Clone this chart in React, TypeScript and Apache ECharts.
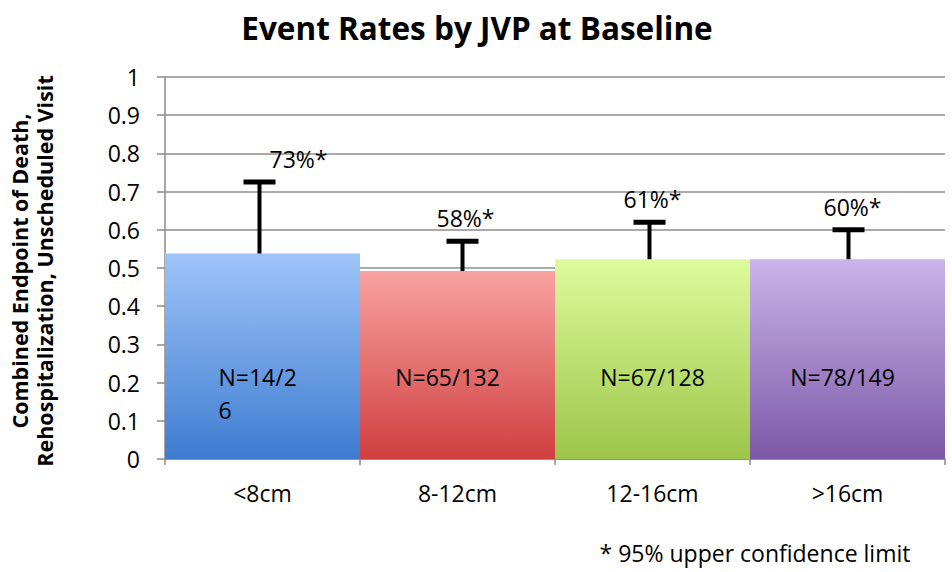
import React, { useEffect, useRef } from "react";
import * as echarts from "echarts";

const categories = ["<8cm", "8-12cm", "12-16cm", ">16cm"];
const rates = [0.538, 0.492, 0.523, 0.523];
const upperLimits = [0.725, 0.57, 0.62, 0.6];
const upperLabels = ["73%*", "58%*", "61%*", "60%*"];
const countLabels = ["N=14/2\n6", "N=65/132", "N=67/128", "N=78/149"];
const yTicks = [0, 0.1, 0.2, 0.3, 0.4, 0.5, 0.6, 0.7, 0.8, 0.9, 1];

const gradients = [
  ["#9fc4f9", "#3e7cd0"],
  ["#f9a2a2", "#d03f3f"],
  ["#ddfb9c", "#9cc64a"],
  ["#cab4ea", "#7c58a6"],
];
const upperLabelDx = [36, 8, 0, 5];
const errorDx = [-3, 5, -3, 1];
const countLabelDx = [-44, -10, 0, -5];

const FONT = "'Open Sans', 'Liberation Sans', sans-serif";

export default function App() {
  const ref = useRef<HTMLDivElement>(null);
  useEffect(() => {
    document.body.style.margin = "0";
    const chart = echarts.init(ref.current!, undefined, { renderer: "svg" });
    const option: any = {
      animation: false,
      backgroundColor: "#ffffff",
      textStyle: { fontFamily: FONT },
      title: {
        text: "Event Rates by JVP at Baseline",
        left: 472,
        top: 6,
        textAlign: "center",
        textStyle: { fontFamily: FONT, fontSize: 31.5, fontWeight: "bold", color: "#000" },
      },
      grid: { left: 165, right: 7, top: 77, bottom: 113, containLabel: false },
      xAxis: {
        type: "category",
        data: categories,
        axisLine: { show: true, lineStyle: { color: "#8a8a8a", width: 1.5 } },
        axisTick: { show: true, length: 6, lineStyle: { color: "#8a8a8a", width: 1.5 } },
        axisLabel: { fontFamily: FONT, fontSize: 23, color: "#000", margin: 22 },
      },
      yAxis: {
        type: "value",
        min: 0,
        max: 1,
        interval: 0.1,
        axisLine: { show: true, lineStyle: { color: "#8a8a8a", width: 1.5 } },
        axisTick: { show: true, inside: false, length: 8, lineStyle: { color: "#8a8a8a", width: 1.5 } },
        splitLine: { show: true, lineStyle: { color: "#8e8e8e", width: 1.5 } },
        axisLabel: {
          fontFamily: FONT,
          fontSize: 23,
          color: "#000",
          margin: 25,
          formatter: (v: number) => {
            const t = yTicks.find((x) => Math.abs(x - v) < 1e-9);
            return t === undefined ? "" : String(t);
          },
        },
      },
      graphic: [
        {
          type: "text",
          x: 32,
          y: 271,
          rotation: Math.PI / 2,
          style: {
            text: "Combined Endpoint of Death,\nRehospitalization, Unscheduled Visit",
            font: `bold 21.5px ${FONT}`,
            fill: "#000",
            align: "center",
            verticalAlign: "middle",
            lineHeight: 25,
          },
        },
        {
          type: "text",
          x: 755,
          y: 553,
          style: {
            text: "* 95% upper confidence limit",
            font: `23px ${FONT}`,
            fill: "#000",
            align: "center",
            verticalAlign: "middle",
          },
        },
      ],
      series: [
        {
          type: "bar",
          barCategoryGap: 0,
          z: 2,
          data: rates.map((v, i) => ({
            value: v,
            itemStyle: {
              color: new echarts.graphic.LinearGradient(0, 0, 0, 1, [
                { offset: 0, color: gradients[i][0] },
                { offset: 1, color: gradients[i][1] },
              ]),
            },
            label:
              i === 0
                ? { verticalAlign: "top", align: "left", distance: 99, offset: [countLabelDx[i], 0] }
                : { offset: [countLabelDx[i], 0] },
          })),
          label: {
            show: true,
            position: "insideBottom",
            distance: 82,
            verticalAlign: "middle",
            fontFamily: FONT,
            fontSize: 23,
            color: "#000",
            lineHeight: 33,
            formatter: (p: any) => countLabels[p.dataIndex],
          },
        },
        {
          type: "custom",
          z: 5,
          data: upperLimits.map((u, i) => [i, u, rates[i]]),
          renderItem: (params: any, api: any) => {
            const i = api.value(0);
            const top = api.coord([i, api.value(1)]);
            const base = api.coord([i, api.value(2)]);
            const cx = top[0] + errorDx[params.dataIndex];
            const half = 16;
            return {
              type: "group",
              children: [
                {
                  type: "line",
                  shape: { x1: cx, y1: base[1], x2: cx, y2: top[1] },
                  style: { stroke: "#000", lineWidth: 4 },
                },
                {
                  type: "line",
                  shape: { x1: cx - half, y1: top[1], x2: cx + half, y2: top[1] },
                  style: { stroke: "#000", lineWidth: 5 },
                },
                {
                  type: "text",
                  x: top[0] + upperLabelDx[params.dataIndex],
                  y: top[1] - 23,
                  style: {
                    text: upperLabels[params.dataIndex],
                    font: `23px ${FONT}`,
                    fill: "#000",
                    align: "center",
                    verticalAlign: "middle",
                  },
                },
              ],
            };
          },
        },
      ],
    };
    chart.setOption(option);
    return () => chart.dispose();
  }, []);
  return <div ref={ref} style={{ width: 952, height: 572 }} />;
}
